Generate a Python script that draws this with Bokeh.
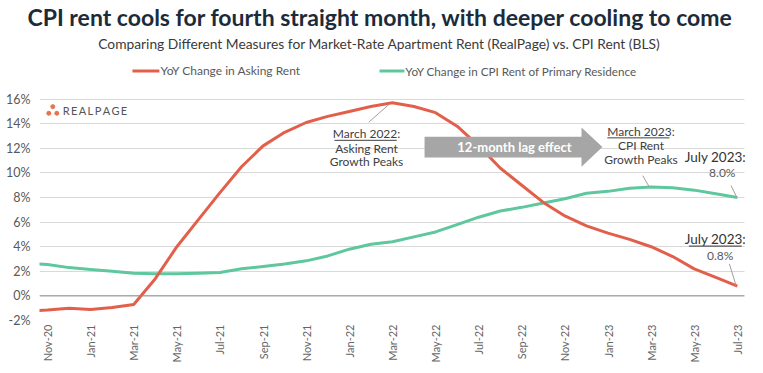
import math
from bokeh.plotting import figure
from bokeh.models import (FixedTicker, PrintfTickFormatter, Label, Span, Range1d, Arrow, BoxAnnotation)
from bokeh.embed import file_html
from bokeh.resources import INLINE

# ---------------- data ----------------
months = ["Oct-20", "Nov-20", "Dec-20", "Jan-21", "Feb-21", "Mar-21", "Apr-21", "May-21",
          "Jun-21", "Jul-21", "Aug-21", "Sep-21", "Oct-21", "Nov-21", "Dec-21", "Jan-22",
          "Feb-22", "Mar-22", "Apr-22", "May-22", "Jun-22", "Jul-22", "Aug-22", "Sep-22",
          "Oct-22", "Nov-22", "Dec-22", "Jan-23", "Feb-23", "Mar-23", "Apr-23", "May-23",
          "Jun-23", "Jul-23"]
asking_rent = [-1.25, -1.15, -1.0, -1.1, -0.95, -0.7, 1.4, 4.0,
               6.2, 8.4, 10.5, 12.2, 13.3, 14.1, 14.6, 15.0,
               15.4, 15.7, 15.4, 14.9, 13.8, 12.2, 10.4, 9.0,
               7.6, 6.5, 5.7, 5.1, 4.6, 4.0, 3.2, 2.2,
               1.5, 0.8]
cpi_rent = [2.65, 2.55, 2.3, 2.15, 2.0, 1.85, 1.8, 1.8,
            1.85, 1.9, 2.2, 2.4, 2.6, 2.85, 3.25, 3.8,
            4.2, 4.4, 4.8, 5.2, 5.8, 6.4, 6.9, 7.2,
            7.55, 7.9, 8.35, 8.5, 8.75, 8.85, 8.8, 8.6,
            8.3, 8.0]
x_idx = list(range(-1, len(months) - 1))          # Nov-20 = 0
tick_idx = x_idx[1::2]
tick_labels = months[1::2]
y_ticks = [-2, 0, 2, 4, 6, 8, 10, 12, 14, 16]

RED = "#E2604B"
GREEN = "#5EC79E"
FONT = "Lato"
X_END_DATA = 32.33

p = figure(width=747, height=365, output_backend="svg", toolbar_location=None,
           x_range=Range1d(-0.371, 32.47), y_range=Range1d(-2, 21.58),
           min_border_left=39, min_border_right=0, min_border_top=30, min_border_bottom=37)
p.outline_line_color = None
p.background_fill_color = "white"

p.title.text = "CPI rent cools for fourth straight month, with deeper cooling to come"
p.title.align = "left"
p.title.text_font = FONT
p.title.text_font_size = "23px"
p.title.text_font_style = "bold"
p.title.text_color = "#1c2b3a"
p.title.standoff = 0
p.title.offset = -12

# axes
p.xaxis.ticker = FixedTicker(ticks=tick_idx)
p.xaxis.major_label_overrides = {i: l for i, l in zip(tick_idx, tick_labels)}
p.xaxis.major_label_orientation = math.pi / 2
p.xaxis.axis_line_color = None
p.xaxis.major_tick_line_color = None
p.xaxis.minor_tick_line_color = None
p.xaxis.major_tick_out = 0
p.xaxis.major_tick_in = 0
p.xaxis.axis_label_standoff = 0
p.xaxis.axis_label_text_font_size = "0px"
p.xaxis.major_label_text_font = FONT
p.xaxis.major_label_text_font_size = "11px"
p.xaxis.major_label_text_color = "#666666"
p.xaxis.major_label_standoff = 4

p.yaxis.ticker = FixedTicker(ticks=y_ticks)
p.yaxis.formatter = PrintfTickFormatter(format="%d%%")
p.yaxis.axis_line_color = None
p.yaxis.major_tick_line_color = None
p.yaxis.minor_tick_line_color = None
p.yaxis.major_tick_out = 0
p.yaxis.major_tick_in = 0
p.yaxis.axis_label_standoff = 0
p.yaxis.axis_label_text_font_size = "0px"
p.yaxis.major_label_text_font = FONT
p.yaxis.major_label_text_font_size = "12.5px"
p.yaxis.major_label_text_color = "#595959"
p.yaxis.major_label_standoff = 9

p.xgrid.grid_line_color = None
p.ygrid.ticker = FixedTicker(ticks=y_ticks)
p.ygrid.grid_line_color = "#d9d9d9"
p.add_layout(Span(location=0, dimension="width", line_color="#8c8c8c", line_width=1))
# gridlines stop a little before the right edge
p.add_layout(BoxAnnotation(left=X_END_DATA, fill_color="white", fill_alpha=1.0, line_color=None))

# series
p.line(x_idx, cpi_rent, line_color=GREEN, line_width=3)
p.line(x_idx, asking_rent, line_color=RED, line_width=3)

def lab(x, y, t, size="12px", color="#404040", style="normal", align="center"):
    p.add_layout(Label(x=x, y=y, text=t, text_font=FONT, text_font_size=size,
                       text_color=color, text_font_style=style, text_align=align,
                       text_baseline="middle"))

lab(15.4, 20.49, "Comparing Different Measures for Market-Rate Apartment Rent (RealPage) vs. CPI Rent (BLS)",
    size="13.8px", color="#3a3a3a")

# legend
p.segment(x0=[3.94], y0=[18.29], x1=[5.19], y1=[18.29], line_color=RED, line_width=3)
lab(5.24, 18.29, "YoY Change in Asking Rent", size="12px", color="#595959", align="left")
p.segment(x0=[15.4], y0=[18.29], x1=[16.56], y1=[18.29], line_color=GREEN, line_width=3)
lab(16.6, 18.29, "YoY Change in CPI Rent of Primary Residence", size="11.7px", color="#595959", align="left")

# RealPage logo
p.scatter([0.246, 0.06, 0.43], [15.39, 14.85, 14.85], size=4, color="#E8734F")
lab(0.71, 15.07, "\u2009".join("REALPAGE"), size="11px", color="#555555", align="left")

# 12-month lag arrow
ax0, ax1, atip, ayc, bar_h, head_h = 17.49, 24.77, 25.74, 12.1, 0.85, 1.6
p.patch([ax0, ax1, ax1, atip, ax1, ax1, ax0],
        [ayc - bar_h, ayc - bar_h, ayc - head_h, ayc, ayc + head_h, ayc + bar_h, ayc + bar_h],
        fill_color="#a6a6a6", line_color=None)
lab(21.66, 12.1, "12-month lag effect", size="13px", color="white", style="bold")

# annotations
lab(14.8, 13.17, "March 2022:")
lab(14.8, 12.0, "Asking Rent")
lab(14.8, 10.92, "Growth Peaks")
lab(27.53, 13.36, "March 2023:")
lab(27.53, 12.22, "CPI Rent")
lab(27.53, 11.06, "Growth Peaks")
lab(30.98, 11.3, "July 2023:", size="13.5px", color="#333333")
lab(31.3, 10.0, "8.0%", color="#595959")
lab(30.98, 4.63, "July 2023:", size="13.5px", color="#333333")
lab(31.2, 3.25, "0.8%", color="#595959")

def seg(x0, y0, x1, y1, color="#a0a0a0", w=1):
    p.add_layout(Arrow(end=None, x_start=x0, y_start=y0, x_end=x1, y_end=y1,
                       line_color=color, line_width=w))

seg(14.9, 14.12, 15.86, 15.6)
seg(27.61, 9.78, 27.92, 8.84)
seg(31.71, 8.97, 31.97, 8.02)
seg(31.63, 2.6, 31.94, 0.84)
seg(13.31, 12.65, 16.2, 12.65, color="#404040")
seg(25.97, 12.85, 28.85, 12.85, color="#404040")
seg(29.75, 4.05, 32.2, 4.05, color="#333333")

open("out.html", "w").write(file_html(p, INLINE))
